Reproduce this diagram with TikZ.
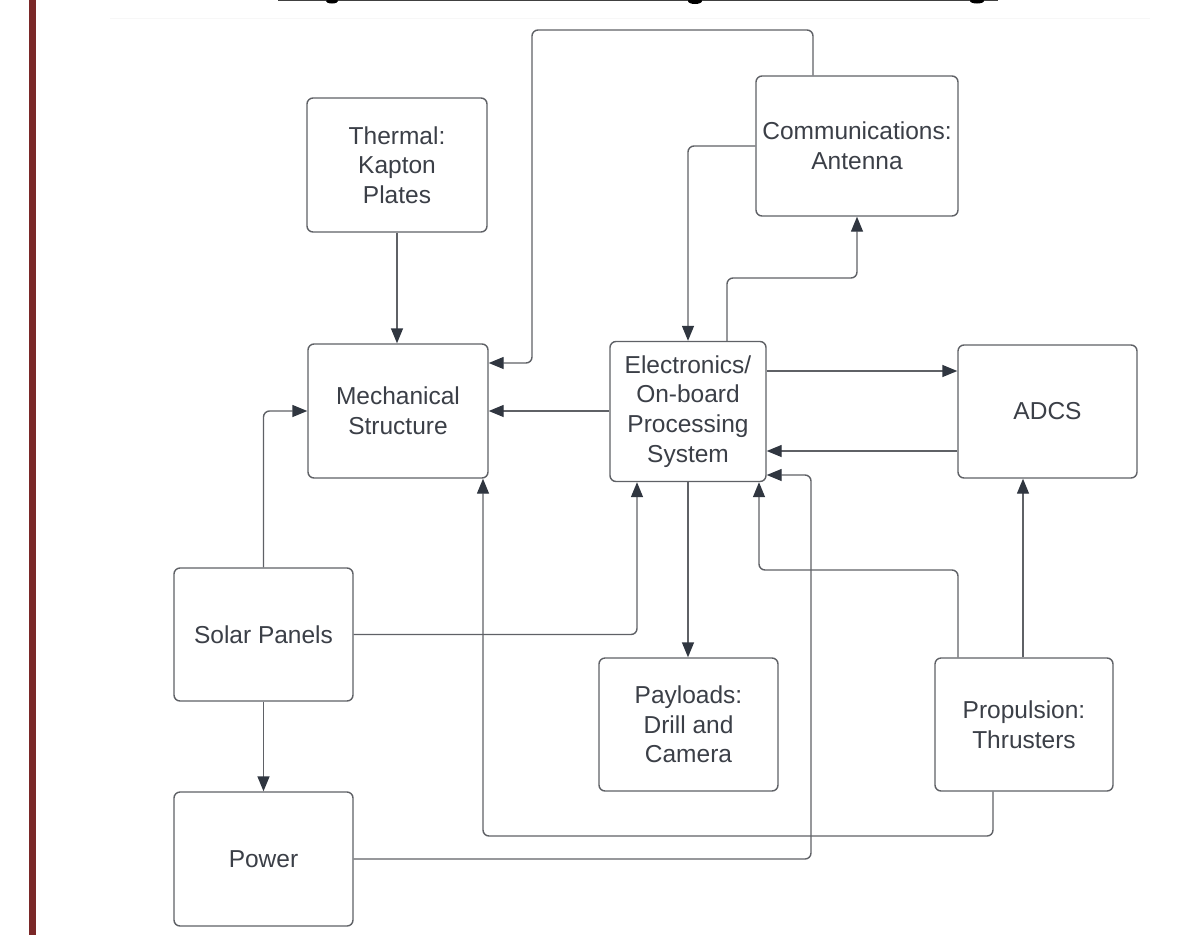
\documentclass[tikz,border=0pt]{standalone}
\usepackage{fontspec}
\setmainfont{Liberation Sans}
\usetikzlibrary{arrows.meta}
\definecolor{txt}{HTML}{3B3F47}
\definecolor{edge}{HTML}{5F6166}
\definecolor{tip}{HTML}{303640}
\definecolor{bar}{HTML}{7A2828}
\tikzset{
  box/.style={draw=edge, line width=1.4pt, rounded corners=6pt, fill=white,
    text=txt, align=center, inner sep=0pt,
    font=\fontsize{24.5}{29.7}\selectfont},
  arr/.style={draw=edge, line width=1.4pt, rounded corners=6pt,
    -{Triangle[length=15pt,width=12pt,fill=tip,color=tip]}}
}
\begin{document}
\begin{tikzpicture}[x=1pt,y=-1pt]
\useasboundingbox (0,0) rectangle (1178,935);
% left red bar
\fill[bar] (29,0) rectangle (35.5,935);
% cut-off title remnants at top
\draw[black!75, line width=1.5pt] (278,0.6) -- (998,0.6);
\fill[black] (332,1) ellipse (6pt and 2.5pt);
\fill[black] (695,1) ellipse (7pt and 3pt);
\fill[black] (977,1) ellipse (7pt and 2.5pt);
\draw[black!3, line width=1pt] (110,18) -- (1150,18);

% boxes
\node[box, minimum width=180pt, minimum height=134pt] (thermal) at (397,165) {Thermal:\\Kapton\\Plates};
\node[box, minimum width=202pt, minimum height=140pt] (comm) at (857,146) {Communications:\\Antenna};
\node[box, minimum width=180pt, minimum height=134pt] (mech) at (398,411) {Mechanical\\Structure};
\node[box, minimum width=156pt, minimum height=140pt] (elec) at (688,411.5) {Electronics/\\On-board\\Processing\\System};
\node[box, minimum width=179pt, minimum height=133pt] (adcs) at (1047.5,411.5) {ADCS};
\node[box, minimum width=179pt, minimum height=133pt] (solar) at (263.5,634.5) {Solar Panels};
\node[box, minimum width=179pt, minimum height=133pt] (payload) at (688.5,724.5) {Payloads:\\Drill and\\Camera};
\node[box, minimum width=178pt, minimum height=133pt] (prop) at (1024,724.5) {Propulsion:\\Thrusters};
\node[box, minimum width=179pt, minimum height=134pt] (power) at (263.5,859) {Power};

% connectors
\draw[arr] (thermal.south) -- (thermal.south |- mech.north);
\draw[arr] ([xshift=-44pt]comm.north) |- (532,30) |- (mech.east |- 0,363);
\draw[arr] (comm.west) -| (elec.north);
\draw[arr] ([xshift=39pt]elec.north) |- (comm.south |- 0,278) -- (comm.south);
\draw[arr] (elec.east |- 0,371) -- (adcs.west |- 0,371);
\draw[arr] (adcs.west |- 0,451) -- (elec.east |- 0,451);
\draw[arr] (elec.west |- mech.east) -- (mech.east);
\draw[arr] (elec.south) -- (elec.south |- payload.north);
\draw[arr] (solar.east) -| (elec.south -| 637,0);
\draw[arr] (solar.north) |- (mech.west);
\draw[arr] (solar.south) -- (power.north);
\draw[arr] (power.east) -| (811,475) -- (elec.east |- 0,475);
\draw[arr] (prop.south -| 993,0) |- (483,836) -- (mech.south -| 483,0);
\draw[arr] (prop.north -| 958,0) |- (759,570) -- (elec.south -| 759,0);
\draw[arr] (prop.north -| 1023,0) -- (adcs.south -| 1023,0);
\end{tikzpicture}
\end{document}
